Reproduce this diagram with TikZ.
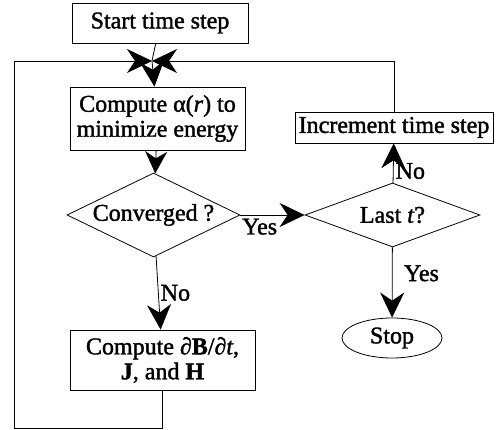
\documentclass[tikz,border=0pt]{standalone}
\usepackage{fontspec}
\setmainfont{Liberation Serif}
\usetikzlibrary{arrows.meta,shapes.geometric,positioning}

\begin{document}
\begin{tikzpicture}[
                    x=1pt, y=-1pt,
                    font=\fontsize{24}{25}\selectfont\addfontfeature{FakeBold=1.5},
                    stepbox/.style={
                        rectangle,
                        draw=black,
                        inner sep=0pt,
                        align=center
                    },
                    test/.style={
                        diamond,
                        draw=black,
                        inner sep=0pt,
                        aspect=1
                    },
                    terminal/.style={
                        ellipse,
                        draw=black,
                        inner sep=0pt
                    },
                    flow/.style={-{Stealth[length=25pt, width=24pt, inset=8pt]}},
                    short flow/.style={-{Stealth[length=22pt, width=22pt, inset=7pt]}},
                    line width=0.8pt
                ]
                \useasboundingbox (0,0) rectangle (504,430);

                \node (ST) [stepbox, minimum width=176pt, minimum height=40pt] at (160,23) {Start time step};
                \node (CA) [stepbox, minimum width=175pt, minimum height=63pt] at (157.5,118.5) {Compute α(\textit{r}) to\\minimize energy};
                \node (CV) [test, minimum width=173pt, minimum height=84pt] at (153.5,215) {\makebox[0pt]{Converged ?}};
                \node (CB) [stepbox, minimum width=185pt, minimum height=60pt] at (162.5,360) {Compute ∂\textbf{B}/∂\textit{t},\\\textbf{J}, and \textbf{H}};
                \node (LT) [test, minimum width=175pt, minimum height=64pt] at (392.5,215) {\makebox[0pt]{Last \textit{t}?}};
                \node (IN) [stepbox, minimum width=198pt, minimum height=31pt] at (394,127.5) {Increment time step};
                \node (SP) [terminal, minimum width=100pt, minimum height=40pt] at (392,338) {Stop};
                \coordinate (M) at (152,61);

                \draw [flow] (ST) -- (M) -- (CA);
                \draw [short flow] (CA) -- (CV);
                \draw [flow] (CV) -- node [right, inner sep=2pt] (N1) {No} (CB);
                \draw [flow] (CV) -- node [below, pos=0.3] (Y1) {Yes} (LT);
                \draw [flow] (LT) -- node [right, pos=0.3, inner sep=2pt] (N2) {No} (IN);
                \draw [flow] (LT) -- node [right, pos=0.37, xshift=8pt] (Y2) {Yes} (SP);
                \draw [flow] (CB.south) -- (162.5,428) -- (14,428) -- (14,61) -- (M);
                \draw [flow] (IN.north) -- (394,61) -- (M);
            \end{tikzpicture}
\end{document}
